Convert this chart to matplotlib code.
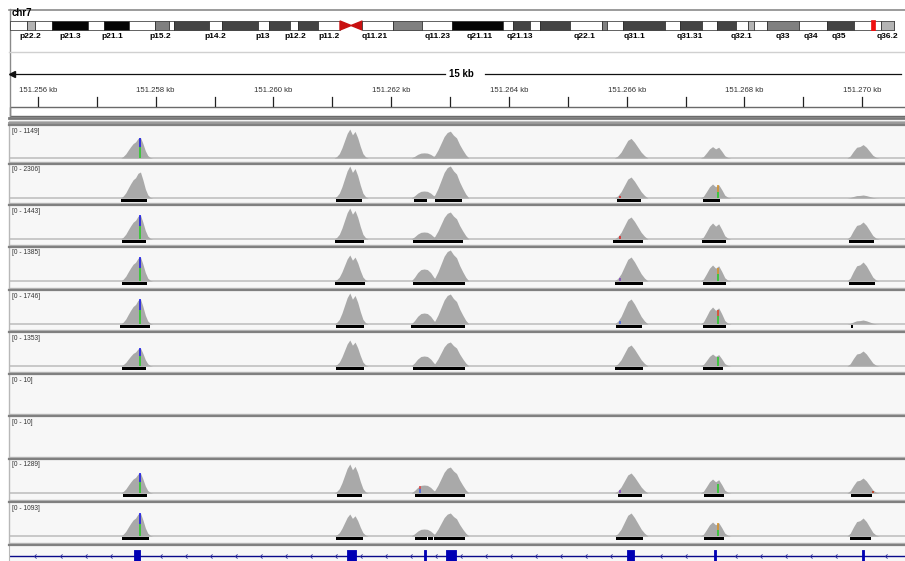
import matplotlib
matplotlib.use("Agg")
import matplotlib.pyplot as plt
from matplotlib.patches import Rectangle, Polygon
from matplotlib.path import Path
import numpy as np

W, H = 905, 561
fig = plt.figure(figsize=(W / 100, H / 100), dpi=100)
fig.patch.set_facecolor("white")

def px_axes(x0, y0, x1, y1, z=1):
    return fig.add_axes([x0 / W, 1 - y1 / H, (x1 - x0) / W, (y1 - y0) / H], zorder=z)

# ---------------- data ----------------
chr_name = "chr7"
chr_len = 159.3
band_edges = [0, 3.1, 4.5, 7.6, 14.0, 16.9, 21.4, 26.1, 28.6, 29.5, 35.8, 38.2, 44.6, 46.6,
              50.4, 51.8, 55.4, 59.4, 63.4, 68.9, 74.2, 79.6, 88.7, 90.5, 93.6, 95.4, 100.8,
              106.6, 107.5, 110.4, 117.9, 120.6, 124.6, 127.3, 130.7, 132.8, 133.9, 136.3,
              142.0, 147.1, 151.9, 156.8, 159.1, 159.3]
band_stain = ["w", "g25", "w", "k", "w", "k", "w", "g50", "w", "g75", "w", "g75", "w", "g75",
              "w", "g75", "w", "acen", "w", "g50", "w", "k", "w", "g75", "w", "g75", "w",
              "g50", "w", "g75", "w", "g75", "w", "g75", "w", "g25", "w", "g50",
              "w", "g75", "w", "g25", "w"]
band_labels = ["p22.2", "p21.3", "p21.1", "p15.2", "p14.2", "p13", "p12.2", "p11.2", "q11.21",
               "q11.23", "q21.11", "q21.13", "q22.1", "q31.1", "q31.31", "q32.1", "q33", "q34",
               "q35", "q36.2"]
band_label_pos = [3.6, 10.8, 18.5, 27.0, 36.9, 45.4, 51.3, 57.4, 65.7, 76.9, 84.6, 91.8, 103.5,
                  112.5, 122.4, 131.6, 139.1, 144.2, 149.2, 158.0]
view_mark = (155.0, 155.7)

view_left, view_right = 151.25551, 151.27076   # kb at the panel edges
ruler_ticks_bp = [151256 + i for i in range(15)]
span_label = "15 kb"
span_label_kb = 151.26320

track_max = [1149, 2306, 1443, 1385, 1746, 1353, 10, 10, 1289, 1093]
track_top = [125, 164, 205, 247, 290, 332, 374, 416, 459, 502]

peak_start = [151.25741, 151.26103, 151.26234, 151.26269, 151.26579, 151.26725, 151.26974]
peak_end = [151.25795, 151.26161, 151.26278, 151.26332, 151.26636, 151.26777, 151.27029]
peak_shape = [
    [0, 0.08, 0.2, 0.38, 0.55, 0.7, 0.78, 0.95, 1.0, 0.7, 0.35, 0.12, 0.03, 0],
    [0, 0.05, 0.15, 0.35, 0.6, 0.85, 1.0, 0.8, 0.92, 0.7, 0.4, 0.15, 0.04, 0],
    [0, 0.3, 0.7, 0.95, 1.0, 0.95, 0.7, 0.3, 0],
    [0, 0.1, 0.3, 0.55, 0.8, 0.95, 1.0, 0.85, 0.75, 0.5, 0.3, 0.12, 0],
    [0, 0.1, 0.3, 0.6, 0.9, 1.0, 0.8, 0.55, 0.3, 0.12, 0],
    [0, 0.12, 0.45, 0.8, 1.0, 0.8, 0.95, 0.6, 0.2, 0.05, 0],
    [0, 0.15, 0.5, 0.8, 0.85, 1.0, 0.8, 0.5, 0.2, 0.05, 0],
]
# peak heights (read counts) per track: A, B, C1, C2, D, E, F
peak_height = [
    [741, 1038, 185, 964, 704, 408, 482],
    [1874, 2306, 504, 2306, 1513, 1009, 216],
    [1082, 1398, 316, 1217, 992, 722, 767],
    [1039, 1125, 520, 1342, 1039, 693, 822],
    [1364, 1692, 600, 1637, 1364, 928, 218],
    [761, 1099, 423, 1015, 888, 507, 634],
    None,
    None,
    [806, 1168, 322, 1047, 806, 564, 604],
    [786, 751, 239, 786, 786, 478, 615],
]
# called regions under the coverage (kb start, kb end)
peak_bars = [
    [],
    [(151.25741, 151.25785), (151.26106, 151.26150), (151.26239, 151.26261),
     (151.26274, 151.26320), (151.26584, 151.26624), (151.26730, 151.26759)],
    [(151.25743, 151.25783), (151.26105, 151.26154), (151.26237, 151.26322),
     (151.26577, 151.26628), (151.26728, 151.26769), (151.26978, 151.27020)],
    [(151.25743, 151.25785), (151.26105, 151.26156), (151.26237, 151.26325),
     (151.26580, 151.26628), (151.26730, 151.26769), (151.26978, 151.27022)],
    [(151.25739, 151.25790), (151.26106, 151.26154), (151.26234, 151.26325),
     (151.26582, 151.26626), (151.26730, 151.26769), (151.26981, 151.26985)],
    [(151.25743, 151.25783), (151.26106, 151.26154), (151.26237, 151.26325),
     (151.26580, 151.26628), (151.26730, 151.26764)],
    [],
    [],
    [(151.25744, 151.25785), (151.26108, 151.26150), (151.26241, 151.26325),
     (151.26585, 151.26626), (151.26731, 151.26765), (151.26981, 151.27017)],
    [(151.25743, 151.25789), (151.26106, 151.26152), (151.26241, 151.26261),
     (151.26263, 151.26271), (151.26273, 151.26325), (151.26582, 151.26628),
     (151.26731, 151.26765), (151.26980, 151.27015)],
]
# mismatch marks: (peak index, kb, [(from, to, colour)] as share of local coverage)
snp_marks = [
    [(0, 151.25773, [(0, 0.55, "#22cc22"), (0.55, 1.0, "#1010ee")])],
    [(4, 151.26589, [(0, 0.45, "#e02020")]), (5, 151.26755, [(0, 0.5, "#22cc22"), (0.5, 1.0, "#d89020")])],
    [(0, 151.25773, [(0, 0.55, "#22cc22"), (0.55, 1.0, "#1010ee")]), (4, 151.26589, [(0, 0.5, "#e02020")])],
    [(0, 151.25773, [(0, 0.55, "#22cc22"), (0.55, 1.0, "#1010ee")]), (4, 151.26589, [(0, 0.5, "#8040c0")]),
     (5, 151.26755, [(0, 0.5, "#22cc22"), (0.5, 0.9, "#d89020")])],
    [(0, 151.25773, [(0, 0.55, "#22cc22"), (0.55, 1.0, "#1010ee")]), (4, 151.26589, [(0, 0.5, "#4060e0")]),
     (5, 151.26755, [(0, 0.5, "#22cc22"), (0.5, 0.9, "#e04020")])],
    [(0, 151.25773, [(0, 0.55, "#22cc22"), (0.55, 1.0, "#1010ee")]), (5, 151.26755, [(0, 0.8, "#22cc22")])],
    [],
    [],
    [(0, 151.25773, [(0, 0.55, "#22cc22"), (0.55, 1.0, "#1010ee")]), (2, 151.26249, [(0, 0.5, "#4060e0"), (0.5, 1.0, "#e04040")]),
     (4, 151.26589, [(0, 0.5, "#8040c0")]), (5, 151.26755, [(0, 0.7, "#22cc22")]), (6, 151.27018, [(0, 0.6, "#c03010")])],
    [(0, 151.25773, [(0, 0.55, "#22cc22"), (0.55, 1.0, "#1010ee")]), (5, 151.26755, [(0, 0.5, "#22cc22"), (0.5, 1.0, "#d89020")])],
]

exon_start = [151.25763, 151.26125, 151.26256, 151.26293, 151.26601, 151.26748, 151.26999]
exon_end = [151.25773, 151.26140, 151.26259, 151.26310, 151.26613, 151.26752, 151.27003]

stain_color = {"w": "white", "g25": "#b4b4b4", "g50": "#808080", "g75": "#444444", "k": "#050505"}
COV = "#a9a9a9"
LBL = ["Liberation Sans", "DejaVu Sans"]

# ---------------- background frames ----------------
bg = fig.add_axes([0, 0, 1, 1], zorder=0)
bg.set_xlim(0, W)
bg.set_ylim(H, 0)
bg.axis("off")
bg.plot([9, 905], [9.5, 9.5], color="#8a8a8a", lw=1.2)
bg.plot([9.5, 9.5], [9, 118], color="#8a8a8a", lw=1.0)
bg.plot([9, 905], [52, 52], color="#d0d0d0", lw=1.0)
bg.add_patch(Rectangle((9.5, 107), 900, 9, facecolor="white", edgecolor="#6a6a6a", lw=1.0))
bg.plot([9, 905], [117.5, 117.5], color="#7a7a7a", lw=2.0)
bg.plot([9, 905], [120.5, 120.5], color="#bdbdbd", lw=1.0)
bg.plot([9, 905], [123, 123], color="#9a9a9a", lw=1.4)
fig.text(12 / W, 1 - 13.5 / H, chr_name, fontsize=7, fontweight="bold", va="center", family=LBL)

# ---------------- ideogram ----------------
ax_id = px_axes(10, 20, 895, 31, z=2)
ax_id.set_xlim(0, chr_len)
ax_id.set_ylim(0, 11)
ax_id.axis("off")
for a, b, st in zip(band_edges[:-1], band_edges[1:], band_stain):
    if st == "acen":
        mid = (a + b) / 2
        ax_id.add_patch(Polygon([(a, 1), (a, 10), (mid, 5.5)], closed=True, color="#c81010"))
        ax_id.add_patch(Polygon([(b, 1), (b, 10), (mid, 5.5)], closed=True, color="#c81010"))
    else:
        ax_id.add_patch(Rectangle((a, 1), b - a, 9, facecolor=stain_color[st],
                                  edgecolor="#222222", lw=0.5))
ax_id.add_patch(Rectangle((view_mark[0], 0), view_mark[1] - view_mark[0], 11,
                          facecolor="#ee1010", edgecolor="#ee1010", lw=0.5))
for lab, pos in zip(band_labels, band_label_pos):
    ax_id.text(pos, -5.5, lab, ha="center", va="center", fontsize=6, fontweight="bold",
               fontstretch="condensed", clip_on=False, family=LBL)

# ---------------- ruler ----------------
ax_r = px_axes(9, 60, 907, 107, z=2)
ax_r.set_xlim(view_left, view_right)
ax_r.set_ylim(107, 60)
ax_r.axis("off")
for i, bp in enumerate(ruler_ticks_bp):
    kb = bp / 1000
    ax_r.plot([kb, kb], [97, 106], color="#222222", lw=0.9)
    if i % 2 == 0:
        ax_r.text(kb, 91, f"{kb:.3f} kb", ha="center", va="center", fontsize=5.6,
                  color="#333333", family=LBL)
ax_r.text(span_label_kb, 74, span_label, ha="center", va="center", fontsize=7,
          fontweight="bold", family=LBL)
ax_r.plot([view_left + 0.00005, span_label_kb - 0.00029], [74, 74], color="#111111", lw=0.9)
ax_r.plot([span_label_kb + 0.00039, view_right - 0.00010], [74, 74], color="#111111", lw=0.9)
ax_r.plot([view_left + 0.00005], [74], marker="<", color="#111111", ms=4)

# ---------------- coverage tracks ----------------
for i, top in enumerate(track_top):
    bottom = track_top[i + 1] - 2 if i + 1 < len(track_top) else 543
    base = top + (33 if i == 0 else 34)
    scale = track_max[i] / 32.0
    ax = px_axes(9, top, 907, bottom, z=2)
    ax.set_xlim(view_left, view_right)
    ax.set_ylim(-(bottom - base) * scale, (base - top) * scale)
    ax.set_facecolor("#f7f7f7")
    ax.set_xticks([])
    ax.set_yticks([])
    for side in ["left", "right", "bottom"]:
        ax.spines[side].set_color("#b8b8b8")
        ax.spines[side].set_linewidth(1.0)
    ax.spines["top"].set_color("#808080")
    ax.spines["top"].set_linewidth(1.6)
    ax.text(3 / 898, 1 - 6 / (bottom - top), f"[0 - {track_max[i]}]", transform=ax.transAxes,
            fontsize=4.8, color="#333333", va="center", ha="left", family=LBL)
    heights = peak_height[i]
    if heights is None:
        continue
    ax.axhline(0, color="#c8c8c8", lw=1.4, zorder=1)
    for k in range(len(peak_start)):
        shp = np.array(peak_shape[k]) * heights[k]
        xs = np.linspace(peak_start[k], peak_end[k], len(shp))
        ax.fill_between(xs, 0, shp, color=COV, lw=0, zorder=2)
    for k, pos, segs in snp_marks[i]:
        shp = np.array(peak_shape[k]) * heights[k]
        xs = np.linspace(peak_start[k], peak_end[k], len(shp))
        local = np.interp(pos, xs, shp)
        for lo, hi, col in segs:
            ax.plot([pos, pos], [lo * local, hi * local], color=col, lw=1.1, zorder=3,
                    solid_capstyle="butt")
    if peak_bars[i]:
        ax.broken_barh([(a, b - a) for a, b in peak_bars[i]], (-4 * scale, 3 * scale),
                       facecolor="black", edgecolor="none", zorder=3)

# ---------------- gene track ----------------
ax_g = px_axes(9, 545, 907, 563, z=2)
ax_g.set_xlim(view_left, view_right)
ax_g.set_ylim(18, 0)
ax_g.set_facecolor("#f7f7f7")
ax_g.set_xticks([])
ax_g.set_yticks([])
for side in ["left", "right", "bottom"]:
    ax_g.spines[side].set_color("#b8b8b8")
ax_g.spines["top"].set_color("#808080")
ax_g.spines["top"].set_linewidth(1.6)
ax_g.plot([view_left, view_right], [11, 11], color="#0a0a8a", lw=1.0, zorder=2)
chevron = Path([(0.5, 1), (-0.5, 0), (0.5, -1)], [Path.MOVETO, Path.LINETO, Path.LINETO])
step = 0.000425
cx = np.arange(view_left + 0.00045, view_right, step)
inside = np.zeros(len(cx), dtype=bool)
for a, b in zip(exon_start, exon_end):
    inside |= (cx > a - 0.00008) & (cx < b + 0.00008)
ax_g.plot(cx[~inside], np.full((~inside).sum(), 11), linestyle="none", marker=chevron,
          ms=3, mfc="none", mec="#2a2a9a", mew=0.6, zorder=3)
ax_g.broken_barh([(a, b - a) for a, b in zip(exon_start, exon_end)], (5, 13),
                 facecolor="#0000b4", edgecolor="#0000b4", lw=0.6, zorder=4)

fig.savefig("out.png", dpi=100, facecolor="white")
